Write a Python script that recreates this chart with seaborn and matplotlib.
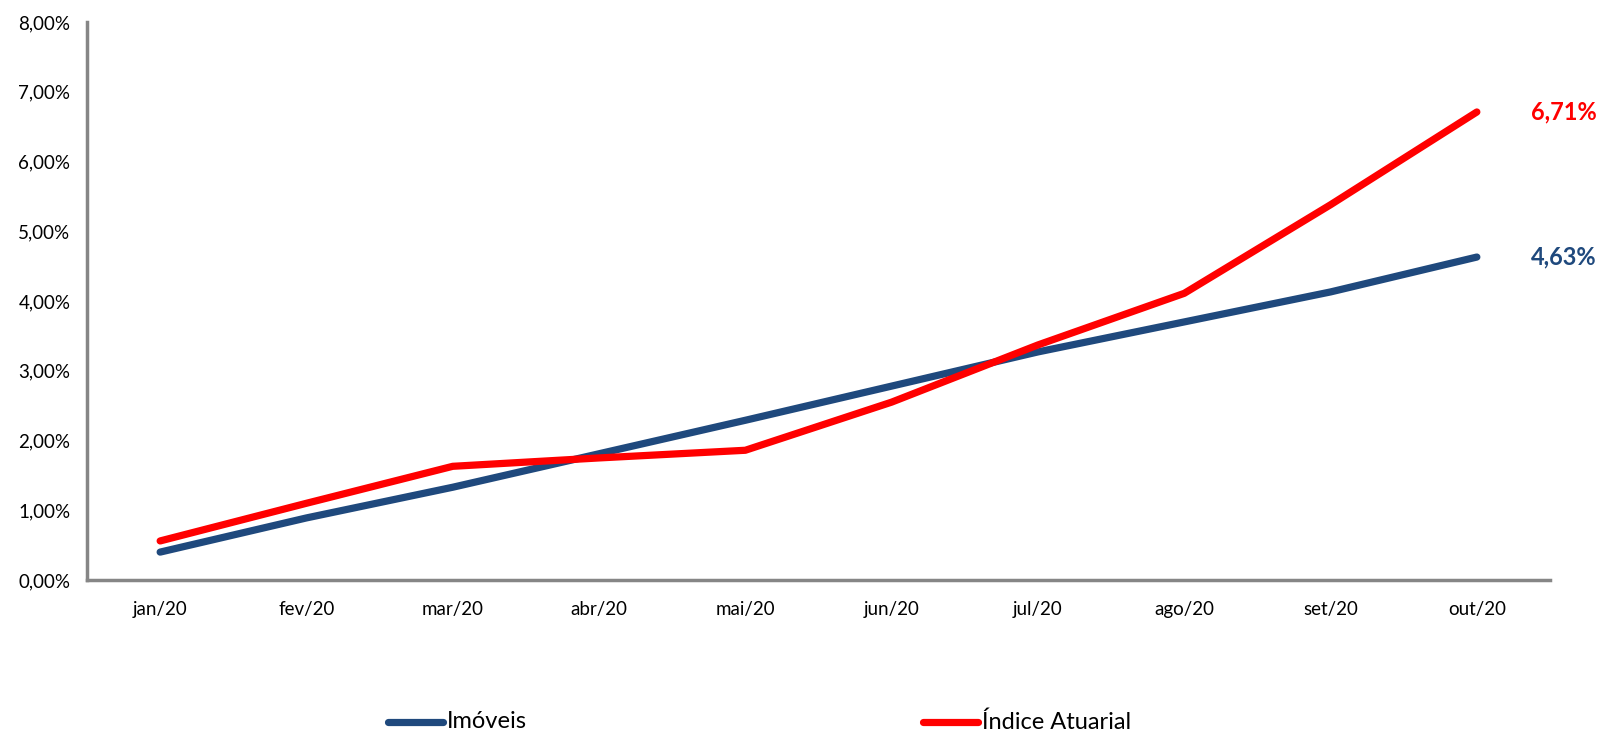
import matplotlib
matplotlib.use("Agg")
import matplotlib.pyplot as plt
import seaborn as sns
import pandas as pd
from matplotlib.ticker import FuncFormatter, MultipleLocator, FixedLocator
from matplotlib.lines import Line2D

months = ["jan/20", "fev/20", "mar/20", "abr/20", "mai/20", "jun/20", "jul/20", "ago/20", "set/20", "out/20"]
imoveis = [0.40, 0.89, 1.33, 1.81, 2.29, 2.78, 3.27, 3.70, 4.13, 4.63]
indice = [0.56, 1.10, 1.63, 1.75, 1.86, 2.55, 3.37, 4.11, 5.38, 6.71]
series_names = ["Imóveis", "Índice Atuarial"]
series_colors = ["#1F497D", "#FF0000"]

sns.set_theme(style="white")
plt.rcParams['font.family'] = ['Lato', 'DejaVu Sans']

df = pd.DataFrame({
    "pos": list(range(len(months))) * 2,
    "valor": imoveis + indice,
    "serie": [series_names[0]] * len(months) + [series_names[1]] * len(months),
})

fig = plt.figure(figsize=(16.01, 7.51), dpi=100)
ax = fig.add_axes([87 / 1601, (751 - 580) / 751, (1550 - 87) / 1601, (580 - 22) / 751])

sns.lineplot(data=df, x="pos", y="valor", hue="serie", palette=dict(zip(series_names, series_colors)),
             linewidth=5.2, ax=ax, legend=False, sort=False)
for ln in ax.lines:
    ln.set_solid_capstyle("round")
    ln.set_solid_joinstyle("round")

ax.set_xlim(-0.5, len(months) - 0.5)
ax.set_ylim(0, 8)
ax.yaxis.set_major_locator(MultipleLocator(1))
ax.yaxis.set_major_formatter(FuncFormatter(lambda v, p: f"{v:.2f}%".replace(".", ",")))
ax.set_xticks(range(len(months)))
ax.set_xticklabels(months)
ax.xaxis.set_minor_locator(FixedLocator([i - 0.5 for i in range(len(months) + 1)]))
ax.tick_params(axis="x", which="major", length=0, pad=15, labelsize=13.5, labelcolor="#000000")
ax.tick_params(axis="x", which="minor", length=7, width=2, color="#868686", direction="out")
ax.tick_params(axis="y", which="major", length=6, width=2, color="#868686", direction="out",
               labelsize=13.5, labelcolor="#000000", pad=6)
ax.set_xlabel("")
ax.set_ylabel("")
for side in ["top", "right"]:
    ax.spines[side].set_visible(False)
for side in ["left", "bottom"]:
    ax.spines[side].set_color("#868686")
    ax.spines[side].set_linewidth(2.5)
ax.grid(False)

# end labels
ax.annotate(f"{indice[-1]:.2f}%".replace(".", ","), xy=(len(months) - 1, indice[-1]), xytext=(39, 0),
            textcoords="offset points", color=series_colors[1], fontsize=17, fontweight="bold", va="center", ha="left")
ax.annotate(f"{imoveis[-1]:.2f}%".replace(".", ","), xy=(len(months) - 1, imoveis[-1]), xytext=(39, 0),
            textcoords="offset points", color=series_colors[0], fontsize=17, fontweight="bold", va="center", ha="left")

# legend
for name, color, x0 in zip(series_names, series_colors, [388, 923]):
    fig.add_artist(Line2D([x0 / 1601, (x0 + 55) / 1601], [1 - 722 / 751] * 2, color=color, linewidth=5.2,
                          solid_capstyle="round", transform=fig.transFigure))
    fig.text((x0 + 59) / 1601, 1 - 722 / 751, name, fontsize=17, va="center", ha="left", color="#000000")

fig.savefig("out.png", dpi=100)
